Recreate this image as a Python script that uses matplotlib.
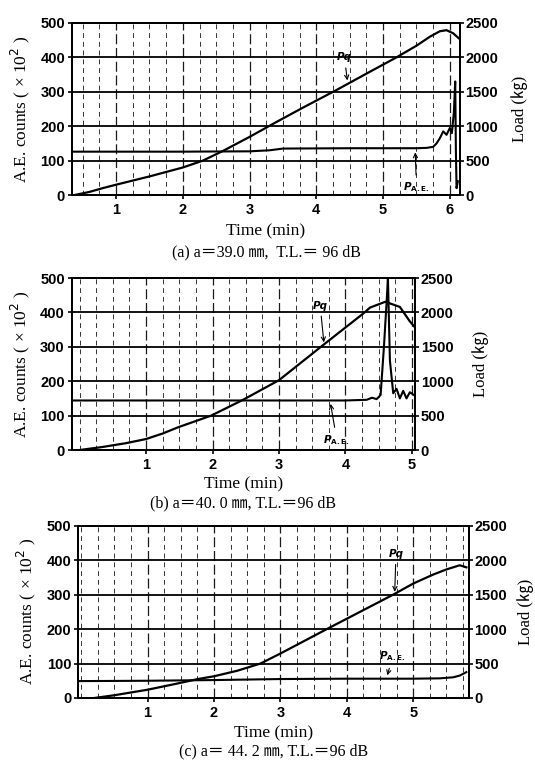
import numpy as np
import matplotlib
matplotlib.use("Agg")
import matplotlib.pyplot as plt
from matplotlib.ticker import MultipleLocator

# ---- data ----
# (a) a = 39.0 mm
ta_load = [0.38, 0.6, 0.8, 1.0, 1.25, 1.5, 1.75, 2.0, 2.3, 2.6, 3.0, 3.4, 3.8, 4.3, 4.8, 5.2, 5.5, 5.7, 5.85, 5.95, 6.05, 6.13]
la_load = [0, 45, 100, 150, 210, 270, 335, 400, 500, 640, 845, 1060, 1270, 1525, 1790, 2000, 2170, 2300, 2380, 2395, 2350, 2280]
ta_ae = [0.34, 1.0, 2.0, 3.0, 3.3, 3.5, 4.5, 5.5, 5.65, 5.75, 5.8, 5.85, 5.9, 5.95, 6.0, 6.03, 6.06, 6.08, 6.09, 6.1, 6.12]
ae_a = [126, 126, 126, 127, 130, 135, 136, 136, 137, 140, 150, 165, 185, 175, 195, 180, 240, 330, 130, 20, 40]

# (b) a = 40.0 mm
tb_load = [0.0, 0.35, 0.7, 1.0, 1.25, 1.48, 1.98, 2.46, 3.0, 3.67, 4.27, 4.37, 4.6, 4.82, 4.97, 5.05]
lb_load = [0, 45, 100, 160, 240, 330, 500, 730, 1015, 1530, 1985, 2070, 2155, 2080, 1870, 1780]
tb_ae = [-0.12, 1.0, 2.0, 3.0, 4.0, 4.32, 4.4, 4.47, 4.53, 4.58, 4.62, 4.64, 4.67, 4.72, 4.77, 4.82, 4.87, 4.92, 4.97, 5.03]
ae_b = [144, 144, 144, 144, 144, 146, 152, 148, 160, 300, 430, 500, 260, 165, 178, 150, 172, 150, 168, 160]

# (c) a = 44.2 mm
tc_load = [0.2, 0.5, 1.0, 1.4, 1.76, 2.0, 2.35, 2.7, 3.0, 3.7, 4.7, 5.0, 5.3, 5.5, 5.7, 5.8]
lc_load = [0, 40, 120, 200, 275, 315, 395, 500, 645, 1000, 1500, 1660, 1790, 1865, 1925, 1895]
tc_ae = [-0.04, 1.0, 2.0, 3.0, 4.0, 5.0, 5.4, 5.6, 5.7, 5.75, 5.8]
ae_c = [49, 50, 52, 55, 56, 56, 57, 60, 65, 70, 75]

panels = [
    dict(rect=[0.1346, 0.7444, 0.725, 0.2255], xlim=(0.34, 6.15), xticks=[1, 2, 3, 4, 5, 6],
         tl=ta_load, ll=la_load, ta=ta_ae, ae=ae_a,
         pq=((4.47, 325), (4.42, 400)), pae=((5.48, 132), (5.5, 22)),
         cap="(a) a\uff1d39.0 \u339c,  T.L.\uff1d 96 dB", xl_y=0.6972, cap_y=0.6697, load_x=0.972),
    dict(rect=[0.134, 0.4102, 0.642, 0.2254], xlim=(-0.12, 5.05), xticks=[1, 2, 3, 4, 5],
         tl=tb_load, ll=lb_load, ta=tb_ae, ae=ae_b,
         pq=((3.68, 305), (3.62, 420)), pae=((3.77, 142), (3.87, 30)),
         cap="(b) a\uff1d40. 0 \u339c, T.L.\uff1d96 dB", xl_y=0.365, cap_y=0.3408, load_x=0.899),
    dict(rect=[0.1467, 0.0852, 0.730, 0.2259], xlim=(-0.04, 5.84), xticks=[1, 2, 3, 4, 5],
         tl=tc_load, ll=lc_load, ta=tc_ae, ae=ae_c,
         pq=((4.72, 300), (4.74, 418)), pae=((4.6, 58), (4.69, 122)),
         cap="(c) a\uff1d 44. 2 \u339c, T.L.\uff1d96 dB", xl_y=0.0393, cap_y=0.0151, load_x=0.983),
]

serif = ["Liberation Serif", "Noto Sans CJK JP", "DejaVu Sans"]

fig = plt.figure(figsize=(5.35, 7.63), dpi=100)

for p in panels:
    ax = fig.add_axes(p["rect"])
    ax2 = ax.twinx()
    ax.set_xlim(*p["xlim"])
    ax.set_ylim(0, 500)
    ax2.set_ylim(0, 2500)
    ax.set_xticks(p["xticks"])
    ax.set_yticks([0, 100, 200, 300, 400, 500])
    ax2.set_yticks([0, 500, 1000, 1500, 2000, 2500])
    ax.xaxis.set_minor_locator(MultipleLocator(0.25))
    ax.grid(which="minor", axis="x", color="0.2", lw=0.7, ls=(0, (5, 4)))
    ax.grid(which="major", axis="x", color="0.1", lw=0.9, ls=(0, (8, 3)))
    ax.grid(which="major", axis="y", color="black", lw=1.3)
    ax.tick_params(which="minor", length=0)
    ax.tick_params(axis="x", length=3, width=1.2, pad=3)
    ax.tick_params(axis="y", length=3, width=1.2, pad=2)
    ax2.tick_params(length=3, width=1.2, pad=1)
    for a in (ax, ax2):
        for lab in a.get_xticklabels() + a.get_yticklabels():
            lab.set_fontfamily("Liberation Sans")
            lab.set_fontweight("bold")
            lab.set_fontsize(10.5)
        for s in a.spines.values():
            s.set_linewidth(1.4)

    ax.plot(p["ta"], p["ae"], color="black", lw=1.5)
    ax2.plot(p["tl"], p["ll"], color="black", lw=1.6)

    ax.annotate("Pq", xy=p["pq"][0], xytext=p["pq"][1], fontsize=7.5,
                fontweight="bold", fontstyle="italic", ha="center", va="center",
                arrowprops=dict(arrowstyle="->", color="black", lw=0.8))
    ax.annotate(r"$\boldsymbol{P}_{\mathbf{A.E.}}$", xy=p["pae"][0], xytext=p["pae"][1],
                fontsize=7.5, ha="center", va="center",
                arrowprops=dict(arrowstyle="->", color="black", lw=0.8))

    ax.set_ylabel("A.E. counts ( \u00d7 10$^2$ )", family=serif, fontsize=12.5, labelpad=6)

    x0 = p["rect"][0] + p["rect"][2] / 2
    yc = p["rect"][1] + p["rect"][3] / 2
    fig.text(p["load_x"], yc, "Load (\u338f)", family=serif, fontsize=12,
             rotation=90, ha="center", va="center")
    fig.text(x0, p["xl_y"], "Time (min)", family=serif, fontsize=12.5, ha="center", va="center")
    fig.text(x0, p["cap_y"], p["cap"], family=serif, fontsize=11.5, ha="center", va="center")

fig.savefig("out.png", dpi=100)
